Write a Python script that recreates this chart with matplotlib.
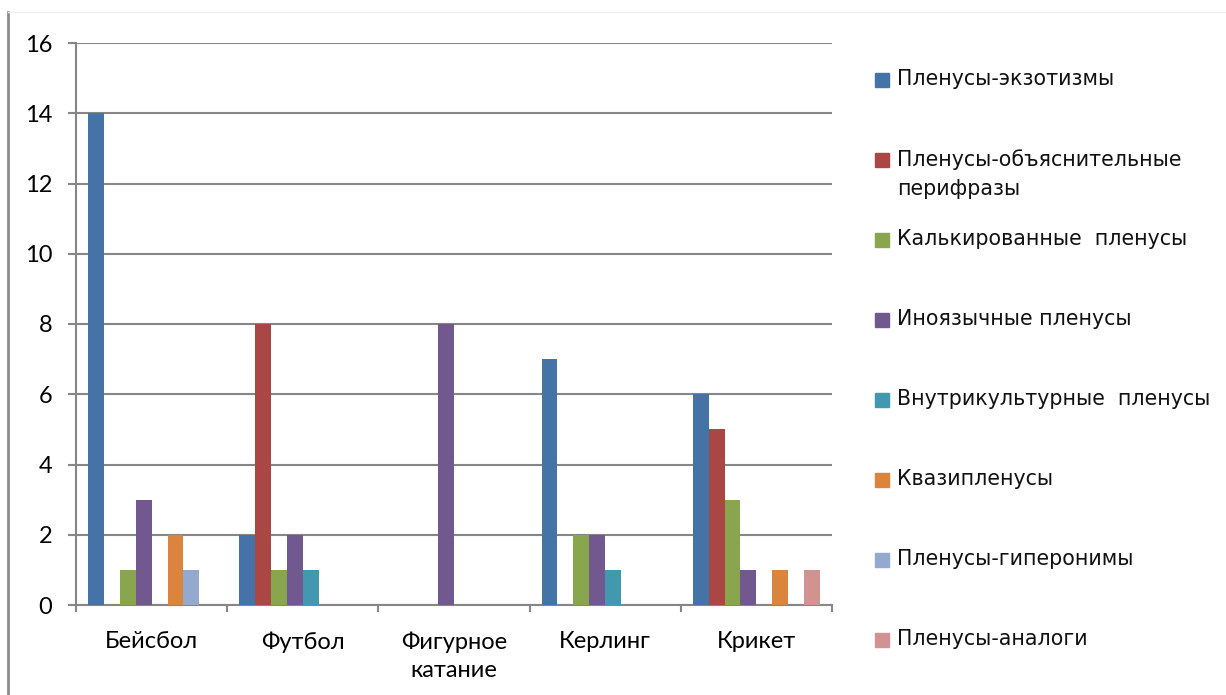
import matplotlib
matplotlib.use('Agg')
import matplotlib.pyplot as plt
import numpy as np
from matplotlib.lines import Line2D
from matplotlib.patches import Rectangle

sports = ['Бейсбол', 'Футбол', 'Фигурное\nкатание', 'Керлинг', 'Крикет']
series = ['Пленусы-экзотизмы', 'Пленусы-объяснительные\nперифразы',
          'Калькированные  пленусы', 'Иноязычные пленусы',
          'Внутрикультурные  пленусы', 'Квазипленусы',
          'Пленусы-гиперонимы', 'Пленусы-аналоги']
colors = ['#4572A7', '#AA4643', '#89A54E', '#71588F',
          '#4198AF', '#DB843D', '#93A9CF', '#D19392']

exotisms = [14, 2, 0, 7, 6]
periphrases = [0, 8, 0, 0, 5]
calques = [1, 1, 0, 2, 3]
foreign = [3, 2, 8, 2, 1]
intracultural = [0, 1, 0, 1, 0]
quasi = [2, 0, 0, 0, 1]
hyperonyms = [1, 0, 0, 0, 0]
analogues = [0, 0, 0, 0, 1]
values = [exotisms, periphrases, calques, foreign,
          intracultural, quasi, hyperonyms, analogues]

W, H = 1226, 695
grey = '#868686'
plt.rcParams['font.family'] = ['Lato', 'DejaVu Sans']

fig = plt.figure(figsize=(W / 100, H / 100), dpi=100)
ax = fig.add_axes([76 / W, 1 - 605 / H, (832 - 76) / W, (605 - 43) / H])

x = np.arange(len(sports))
bw = 1 / 9.5
for i, (vals, col) in enumerate(zip(values, colors)):
    ax.bar(x + (i - 3.5) * bw, vals, bw, color=col, zorder=3)

ax.set_xlim(-0.5, len(sports) - 0.5)
ax.set_ylim(0, 16)
ax.set_yticks(np.arange(0, 17, 2))
ax.yaxis.grid(True, color=grey, lw=1.5, zorder=0)
for s in ['top', 'right']:
    ax.spines[s].set_visible(False)
for s in ['left', 'bottom']:
    ax.spines[s].set_color(grey)
    ax.spines[s].set_linewidth(1.5)

# group separators as major ticks, names as minor ticks
ax.set_xticks(np.arange(-0.5, len(sports)), labels=[])
ax.set_xticks(x, labels=sports, minor=True)
ax.tick_params(axis='x', which='major', length=5, width=1.5, color=grey)
ax.tick_params(axis='x', which='minor', length=0, pad=19, labelsize=17)
ax.tick_params(axis='y', length=6, width=1.5, color=grey, pad=11, labelsize=17)
for lbl in ax.get_xticklabels(minor=True):
    lbl.set_linespacing(1.4)
    lbl.set_verticalalignment('top')

# legend on the right
for i, (name, col) in enumerate(zip(series, colors)):
    yc = 80 + 80 * i
    fig.patches.append(Rectangle((875 / W, 1 - (yc + 7) / H), 14 / W, 14 / H,
                                 color=col, transform=fig.transFigure))
    fig.text(897 / W, 1 - (yc - 11) / H, name, ha='left', va='top',
             fontsize=14.8, family=['DejaVu Sans'], linespacing=1.6, color='#111111')

# outer frame
fig.add_artist(Line2D([8 / W, 8 / W], [0, 1 - 12 / H], color='#8c8c8c', lw=2))
fig.add_artist(Line2D([8 / W, 1], [1 - 12 / H, 1 - 12 / H], color='#eeeeee', lw=1))

fig.savefig('out.png', dpi=100, facecolor='white')
